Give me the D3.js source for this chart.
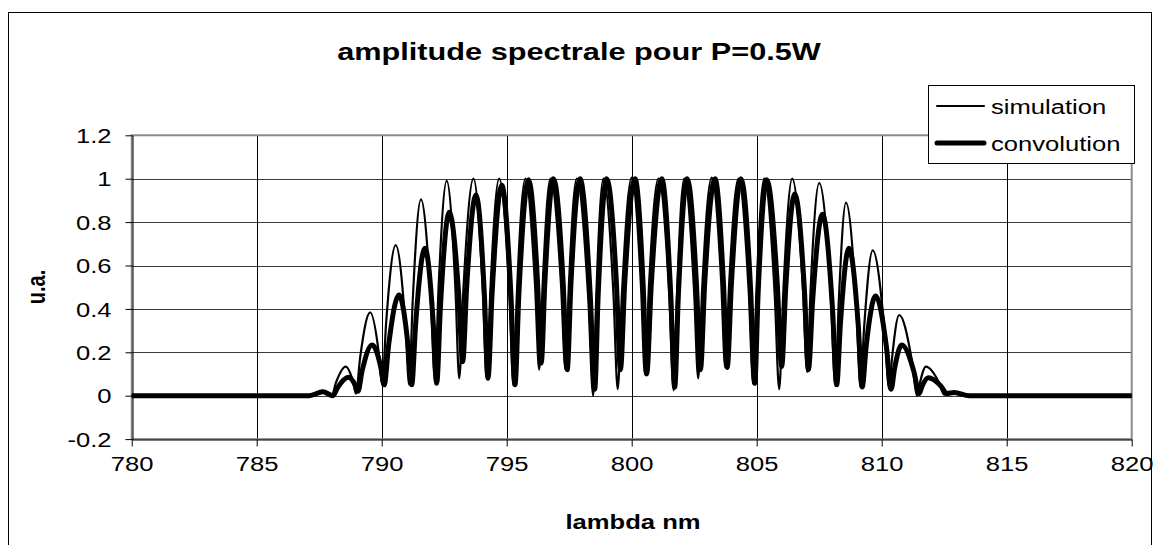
<!DOCTYPE html>
<html>
<head>
<meta charset="utf-8">
<script src="https://cdn.jsdelivr.net/npm/d3@7/dist/d3.min.js"></script>
<style>
body { margin: 0; background: #fff; }
svg { display: block; font-family: "Liberation Sans", Arial, sans-serif; }
</style>
</head>
<body>
<div id="chart"></div>
<script>
// valeurs : [lambda (nm), amplitude]
const simulation = [
    [780, 0], [787.1, 0], [787.6, 0.022], [788.0, 0],
    [788.17, 0.06], [788.56, 0.134], [788.85, 0.066], [788.97, 0.01],
    [789.14, 0.178], [789.54, 0.384], [789.88, 0.20], [790.02, 0.05],
    [790.18, 0.34], [790.56, 0.694], [790.94, 0.34], [791.10, 0.05],
    [791.24, 0.435], [791.57, 0.905], [791.96, 0.446], [792.13, 0.07],
    [792.27, 0.484], [792.60, 0.99], [792.95, 0.49], [793.10, 0.08],
    [793.27, 0.494], [793.67, 1.0], [794.04, 0.494], [794.20, 0.08],
    [794.35, 0.494], [794.70, 1.0], [795.10, 0.478], [795.27, 0.05],
    [795.41, 0.478], [795.75, 1.0], [796.13, 0.516], [796.30, 0.12],
    [796.44, 0.516], [796.75, 1.0], [797.17, 0.516], [797.35, 0.12],
    [797.49, 0.516], [797.80, 1.0], [798.26, 0.45], [798.46, 0.0],
    [798.58, 0.45], [798.87, 1.0], [799.27, 0.467], [799.44, 0.03],
    [799.61, 0.469], [800.00, 1.005], [800.37, 0.507], [800.53, 0.10],
    [800.69, 0.505], [801.07, 1.0], [801.50, 0.464], [801.68, 0.025],
    [801.81, 0.464], [802.10, 1.0], [802.49, 0.494], [802.66, 0.08],
    [802.82, 0.496], [803.20, 1.005], [803.58, 0.524], [803.74, 0.13],
    [803.90, 0.52], [804.27, 1.0], [804.68, 0.481], [804.86, 0.057],
    [804.99, 0.481], [805.30, 1.0], [805.72, 0.467], [805.90, 0.03],
    [806.06, 0.467], [806.42, 1.0], [806.84, 0.51], [807.02, 0.11],
    [807.16, 0.50], [807.50, 0.98], [807.96, 0.465], [808.15, 0.045],
    [808.28, 0.425], [808.57, 0.89], [808.98, 0.42], [809.15, 0.04],
    [809.30, 0.32], [809.64, 0.67], [810.10, 0.32], [810.30, 0.03],
    [810.42, 0.18], [810.70, 0.372], [811.20, 0.167], [811.42, 0.0],
    [811.53, 0.06], [811.77, 0.134], [812.28, 0.063], [812.50, 0.005],
    [812.86, 0.018], [813.40, 0], [820, 0]
];

const convolution = [
    [780, 0], [787.1, 0], [787.65, 0.018], [788.05, 0],
    [788.24, 0.038], [788.67, 0.085], [788.94, 0.049], [789.05, 0.02],
    [789.22, 0.116], [789.62, 0.234], [789.96, 0.133], [790.10, 0.05],
    [790.28, 0.236], [790.69, 0.464], [791.05, 0.236], [791.20, 0.05],
    [791.36, 0.334], [791.73, 0.68], [792.06, 0.337], [792.20, 0.057],
    [792.35, 0.412], [792.70, 0.845], [793.08, 0.467], [793.24, 0.157],
    [793.40, 0.503], [793.77, 0.925], [794.11, 0.46], [794.25, 0.08],
    [794.42, 0.48], [794.80, 0.97], [795.17, 0.464], [795.33, 0.05],
    [795.49, 0.475], [795.87, 0.995], [796.23, 0.53], [796.38, 0.15],
    [796.53, 0.53], [796.87, 1.0], [797.26, 0.516], [797.42, 0.12],
    [797.57, 0.516], [797.93, 1.0], [798.34, 0.467], [798.52, 0.03],
    [798.66, 0.467], [799.00, 1.0], [799.39, 0.516], [799.55, 0.12],
    [799.72, 0.516], [800.13, 1.0], [800.46, 0.505], [800.60, 0.10],
    [800.78, 0.505], [801.20, 1.0], [801.56, 0.472], [801.72, 0.04],
    [801.87, 0.472], [802.22, 1.0], [802.59, 0.516], [802.75, 0.12],
    [802.92, 0.516], [803.33, 1.0], [803.67, 0.52], [803.82, 0.13],
    [803.99, 0.52], [804.37, 1.0], [804.76, 0.481], [804.92, 0.057],
    [805.06, 0.479], [805.40, 0.995], [805.82, 0.521], [806.00, 0.134],
    [806.16, 0.492], [806.52, 0.93], [806.91, 0.485], [807.07, 0.12],
    [807.24, 0.442], [807.63, 0.836], [808.03, 0.404], [808.20, 0.05],
    [808.35, 0.334], [808.69, 0.68], [809.06, 0.328], [809.22, 0.04],
    [809.38, 0.229], [809.76, 0.46], [810.19, 0.224], [810.38, 0.03],
    [810.51, 0.122], [810.80, 0.234], [811.29, 0.11], [811.50, 0.01],
    [811.61, 0.043], [811.86, 0.083], [812.38, 0.043], [812.60, 0.01],
    [812.90, 0.015], [813.50, 0], [820, 0]
];

const xTicks = [780, 785, 790, 795, 800, 805, 810, 815, 820];
const xTickLabels = ["780", "785", "790", "795", "800", "805", "810", "815", "820"];
const yTicks = [-0.2, 0, 0.2, 0.4, 0.6, 0.8, 1, 1.2];
const yTickLabels = ["-0.2", "0", "0.2", "0.4", "0.6", "0.8", "1", "1.2"];
const seriesNames = ["simulation", "convolution"];

const width = 1157, height = 545;
const plot = {left: 131.7, right: 1131.7, top: 135.3, bottom: 439.1};
const sx = 1.28; // le graphique d'origine est étiré horizontalement

const svg = d3.select("#chart").append("svg")
    .attr("width", width)
    .attr("height", height);

svg.append("rect")
    .attr("width", width).attr("height", height)
    .attr("fill", "#fff");

// cadre extérieur
svg.append("rect")
    .attr("x", 8.5).attr("y", 12.5)
    .attr("width", 1143).attr("height", 600)
    .attr("fill", "none").attr("stroke", "#000");

const x = d3.scaleLinear().domain([780, 820]).range([plot.left, plot.right]);
const y = d3.scaleLinear().domain([-0.2, 1.2]).range([plot.bottom, plot.top]);

// quadrillage
svg.append("g").selectAll("line")
    .data(yTicks.slice(1, -1))
    .join("line")
    .attr("x1", plot.left).attr("x2", plot.right)
    .attr("y1", d => Math.round(y(d)) + 0.5).attr("y2", d => Math.round(y(d)) + 0.5)
    .attr("stroke", "#3a3a3a");

svg.append("g").selectAll("line")
    .data(xTicks.slice(1, -1))
    .join("line")
    .attr("x1", d => Math.round(x(d)) + 0.5).attr("x2", d => Math.round(x(d)) + 0.5)
    .attr("y1", plot.top).attr("y2", plot.bottom)
    .attr("stroke", "#000");

// bord de la zone de tracé
svg.append("rect")
    .attr("x", plot.left).attr("y", plot.top)
    .attr("width", plot.right - plot.left).attr("height", plot.bottom - plot.top)
    .attr("fill", "none").attr("stroke", "#8a8a8a").attr("stroke-width", 2);

// Axes
const yAxis = svg.append("g")
    .attr("transform", `translate(${Math.round(plot.left) + 0.5},0)`)
    .call(d3.axisLeft(y).tickValues(yTicks).tickSize(7).tickSizeOuter(0)
        .tickFormat((d, i) => yTickLabels[i]));
yAxis.selectAll("text")
    .attr("x", -21 / sx).attr("dy", "0.36em")
    .attr("transform", `scale(${sx},1)`);

const xAxis = svg.append("g")
    .attr("transform", `translate(0,${Math.round(plot.bottom) + 0.5})`)
    .call(d3.axisBottom(x).tickValues(xTicks).tickSize(7).tickSizeOuter(0)
        .tickFormat((d, i) => xTickLabels[i]));
xAxis.selectAll("text")
    .attr("y", 17).attr("dy", "0.71em")
    .attr("transform", `scale(${sx},1)`)
    .attr("x", 0);

svg.selectAll(".tick text")
    .attr("font-size", 20).attr("font-family", null).attr("fill", "#000");
svg.selectAll(".tick line").attr("stroke", "#000");
svg.selectAll(".domain").attr("stroke", "#000");

// Courbes
const line = d3.line()
    .x(d => x(d[0]))
    .y(d => y(d[1]))
    .curve(d3.curveMonotoneX);

svg.append("path")
    .datum(convolution)
    .attr("d", line)
    .attr("fill", "none").attr("stroke", "#000")
    .attr("stroke-width", 5).attr("stroke-linejoin", "round");

svg.append("path")
    .datum(simulation)
    .attr("d", line)
    .attr("fill", "none").attr("stroke", "#000")
    .attr("stroke-width", 2.2).attr("stroke-linejoin", "round");

// Textes (étirés comme l'original)
function label(txt, px, py, size, bold, anchor, rot) {
    return svg.append("text")
        .attr("transform", `translate(${px},${py}) scale(${sx},1)` + (rot ? ` rotate(${rot})` : ""))
        .attr("text-anchor", anchor)
        .attr("font-size", size)
        .attr("font-weight", bold ? "bold" : "normal")
        .text(txt);
}

label("amplitude spectrale pour P=0.5W", 579, 60, 24, true, "middle");
label("lambda nm", 633, 529, 20, true, "middle");
label("u.a.", 45, 287, 20, true, "middle", -90);

// Légende
const legend = svg.append("g");
legend.append("rect")
    .attr("x", 928.5).attr("y", 85.5)
    .attr("width", 206).attr("height", 78)
    .attr("fill", "#fff").attr("stroke", "#000");

const legendY = [106, 143];
const legendW = [2, 5];
seriesNames.forEach((name, i) => {
    legend.append("line")
        .attr("x1", 937).attr("x2", 984)
        .attr("y1", legendY[i]).attr("y2", legendY[i])
        .attr("stroke", "#000").attr("stroke-width", legendW[i])
        .attr("stroke-linecap", "round");
    label(name, 991, legendY[i] + 7.5, 20, false, "start");
});
</script>
</body>
</html>
